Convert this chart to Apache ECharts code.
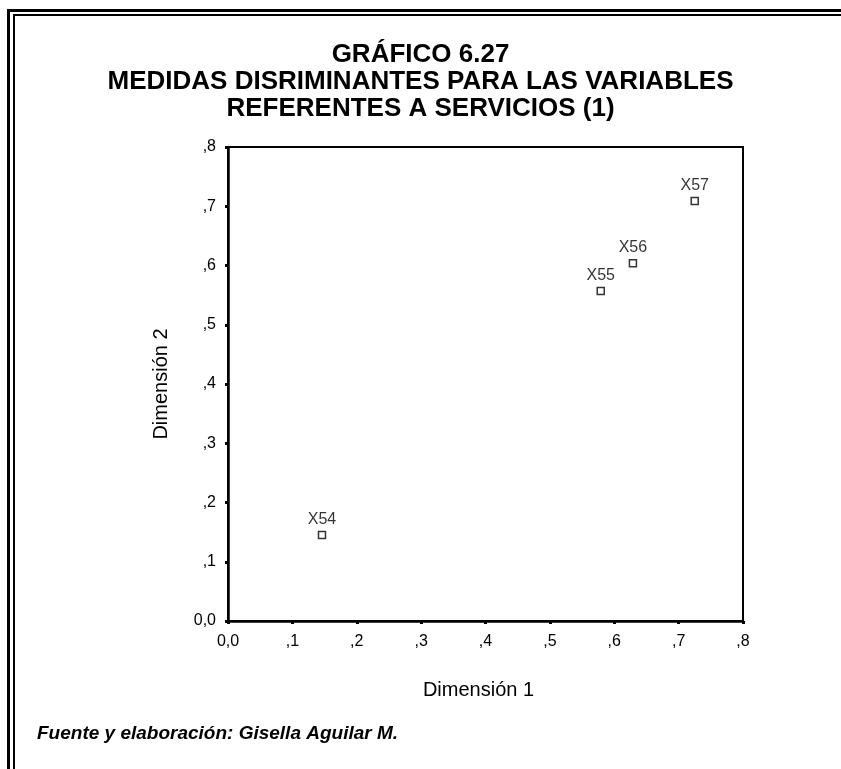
<!DOCTYPE html>
<html>
<head>
<meta charset="utf-8">
<script src="https://cdn.jsdelivr.net/npm/echarts@6/dist/echarts.min.js"></script>
<style>
html,body{margin:0;padding:0;background:#fff;}
#chart{width:841px;height:769px;}
</style>
</head>
<body>
<div id="chart"></div>
<script>
// Data
var pointNames = ['X54', 'X55', 'X56', 'X57'];
var dim1Values = [0.146, 0.579, 0.629, 0.725];
var dim2Values = [0.145, 0.557, 0.604, 0.709];
var tickValues = [0, 0.1, 0.2, 0.3, 0.4, 0.5, 0.6, 0.7, 0.8];
var tickLabels = ['0,0', ',1', ',2', ',3', ',4', ',5', ',6', ',7', ',8'];
var titleLines = ['GRÁFICO 6.27', 'MEDIDAS DISRIMINANTES PARA LAS VARIABLES', 'REFERENTES A SERVICIOS (1)'];
var xAxisName = 'Dimensión 1';
var yAxisName = 'Dimensión 2';
var footnote = 'Fuente y elaboración: Gisella Aguilar M.';

function fmt(v) {
  var i = Math.round(v * 10);
  return tickLabels[i] !== undefined ? tickLabels[i] : String(v);
}

var pts = pointNames.map(function (n, i) { return { name: n, value: [dim1Values[i], dim2Values[i]] }; });

var chart = echarts.init(document.getElementById('chart'), null, { renderer: 'canvas' });
var font = "'Liberation Sans', Arial, sans-serif";
chart.setOption({
  backgroundColor: '#ffffff',
  animation: false,
  title: {
    text: titleLines.join('\n'),
    left: 'center',
    top: 36,
    textStyle: { fontFamily: font, fontSize: 26, fontWeight: 'bold', color: '#000', lineHeight: 27 }
  },
  grid: { left: 228, top: 147, right: 98, bottom: 148, show: true, borderColor: '#000', borderWidth: 2, backgroundColor: 'transparent' },
  xAxis: {
    type: 'value', min: 0, max: 0.8, interval: 0.1,
    name: xAxisName, nameLocation: 'middle', nameGap: 59,
    nameTextStyle: { fontFamily: font, fontSize: 20, color: '#000', padding: [0, 14, 0, 0] },
    axisLine: { show: true, onZero: false, lineStyle: { color: '#000', width: 2.5 } },
    axisTick: { show: true, length: 3, lineStyle: { color: '#000', width: 3 } },
    axisLabel: { formatter: fmt, fontFamily: font, fontSize: 16, color: '#000', margin: 13 },
    splitLine: { show: false }
  },
  yAxis: {
    type: 'value', min: 0, max: 0.8, interval: 0.1,
    name: yAxisName, nameLocation: 'middle', nameGap: 57, nameRotate: 90,
    nameTextStyle: { fontFamily: font, fontSize: 20, color: '#000' },
    axisLine: { show: true, onZero: false, lineStyle: { color: '#000', width: 2.5 } },
    axisTick: { show: true, length: 3, lineStyle: { color: '#000', width: 3 } },
    axisLabel: { formatter: fmt, fontFamily: font, fontSize: 16, color: '#000', margin: 12 },
    splitLine: { show: false }
  },
  series: [{
    type: 'scatter',
    data: pts,
    symbol: 'rect',
    symbolSize: 7,
    itemStyle: { color: '#fff', borderColor: '#000', borderWidth: 1.5 },
    label: {
      show: true, position: 'top', distance: 3,
      formatter: function (p) { return p.name; },
      fontFamily: font, fontSize: 16, color: '#000'
    }
  }],
  graphic: [
    { type: 'rect', shape: { x: 7, y: 9, width: 3, height: 770 }, style: { fill: '#000' } },
    { type: 'rect', shape: { x: 13, y: 14, width: 2, height: 770 }, style: { fill: '#000' } },
    { type: 'rect', shape: { x: 7, y: 9, width: 840, height: 3 }, style: { fill: '#000' } },
    { type: 'rect', shape: { x: 13, y: 14, width: 840, height: 2 }, style: { fill: '#000' } },
    {
      type: 'text', left: 37, top: 724,
      style: { text: footnote, fontFamily: font, fontSize: 19, fontWeight: 'bold', fontStyle: 'italic', fill: '#000' }
    }
  ]
});
</script>
</body>
</html>
